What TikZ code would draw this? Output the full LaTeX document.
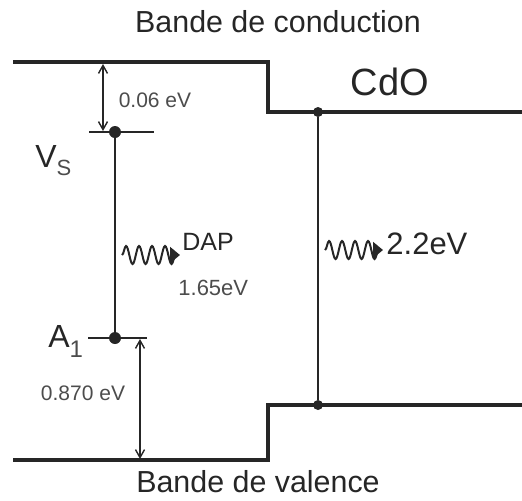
\documentclass[tikz,border=0pt]{standalone}
\usepackage{fontspec}
\setmainfont{Liberation Sans}
\usetikzlibrary{arrows.meta,decorations.pathmorphing}

\begin{document}
\begin{tikzpicture}[x=0.5pt, y=-0.5pt,
    band/.style={line width=1.8pt, line join=miter, black!85},
    level/.style={line width=0.7pt, black!85},
    dot/.style={circle, fill=black!85, inner sep=0pt, minimum size=6pt},
    dimarrow/.style={line width=0.7pt, black!85, {Straight Barb[length=4pt,width=4.5pt]}-{Straight Barb[length=4pt,width=4.5pt]}},
    photon/.style={line width=1pt, black!85, decorate, decoration={snake, amplitude=4.5pt, segment length=6.5pt, post length=2pt}, -{Triangle[length=5pt,width=8pt]}},
    lbl/.style={inner sep=0pt, text=black!85},
    small/.style={lbl, font=\fontsize{10.5}{12}\selectfont, text=black!70}]
    \useasboundingbox (0,0) rectangle (522,500);

    % Conduction band
    \coordinate (cbL) at (13,62);
    \coordinate (cbStepT) at (268,62);
    \coordinate (cbStepB) at (268,112);
    \coordinate (cbR) at (522,112);
    \draw[band] (cbL) -- (cbStepT) -- (cbStepB) -- (cbR);

    % Valence band
    \coordinate (vbL) at (13,460);
    \coordinate (vbStepB) at (268,460);
    \coordinate (vbStepT) at (268,405);
    \coordinate (vbR) at (522,405);
    \draw[band] (vbL) -- (vbStepB) -- (vbStepT) -- (vbR);

    \node[lbl, font=\fontsize{15.2}{18}\selectfont] (cbText) at (278,22) {Bande de conduction};
    \node[lbl, font=\fontsize{15.2}{18}\selectfont] (vbText) at (258,482) {Bande de valence};
    \node[lbl, font=\fontsize{19}{22}\selectfont] (cdo) at (390,82) {CdO};

    % Levels V_S and A_1
    \node[dot] (VS) at (115,132) {};
    \node[dot] (A1) at (115,338) {};
    \coordinate (vsL) at (89,132);
    \coordinate (vsR) at (154,132);
    \coordinate (a1L) at (88,338);
    \coordinate (a1R) at (147,338);
    \draw[level] (vsL) -- (vsR);
    \draw[level] (a1L) -- (a1R);
    \draw[level] (VS) -- (A1);

    \node[lbl, anchor=base west, font=\fontsize{16}{16}\selectfont] (vsText) at (35,167)
        {V\raisebox{-4pt}{\fontsize{11}{11}\selectfont\color{black!70}S}};
    \node[lbl, anchor=base west, font=\fontsize{16}{16}\selectfont] (a1Text) at (48,347)
        {A\raisebox{-5pt}{\fontsize{12}{12}\selectfont\color{black!70}1}};

    % Gap of CdO
    \node[dot, minimum size=5pt] (cbDot) at (318,112) {};
    \node[dot, minimum size=5pt] (vbDot) at (318,405) {};
    \draw[level] (cbDot) -- (vbDot);

    % Dimension arrows
    \coordinate (d1T) at (103,64);
    \coordinate (d1B) at (103,131);
    \draw[dimarrow] (d1T) -- (d1B);
    \node[small] (e006) at (155,100) {0.06 eV};

    \coordinate (d2T) at (140,339);
    \coordinate (d2B) at (140,459);
    \draw[dimarrow] (d2T) -- (d2B);
    \node[small] (e0870) at (83,393) {0.870 eV};

    % Emission
    \coordinate (dapS) at (122,255);
    \coordinate (dapE) at (180,255);
    \draw[photon] (dapS) -- (dapE);
    \node[lbl, anchor=west, font=\fontsize{12.5}{14}\selectfont] (dap) at (182,242) {DAP};
    \node[small, anchor=west, font=\fontsize{11}{13}\selectfont] (e165) at (178,288) {1.65eV};

    \coordinate (gapS) at (325,250);
    \coordinate (gapE) at (383,250);
    \draw[photon] (gapS) -- (gapE);
    \node[lbl, anchor=west, font=\fontsize{15.5}{18}\selectfont] (e22) at (386,244) {2.2eV};
\end{tikzpicture}
\end{document}
